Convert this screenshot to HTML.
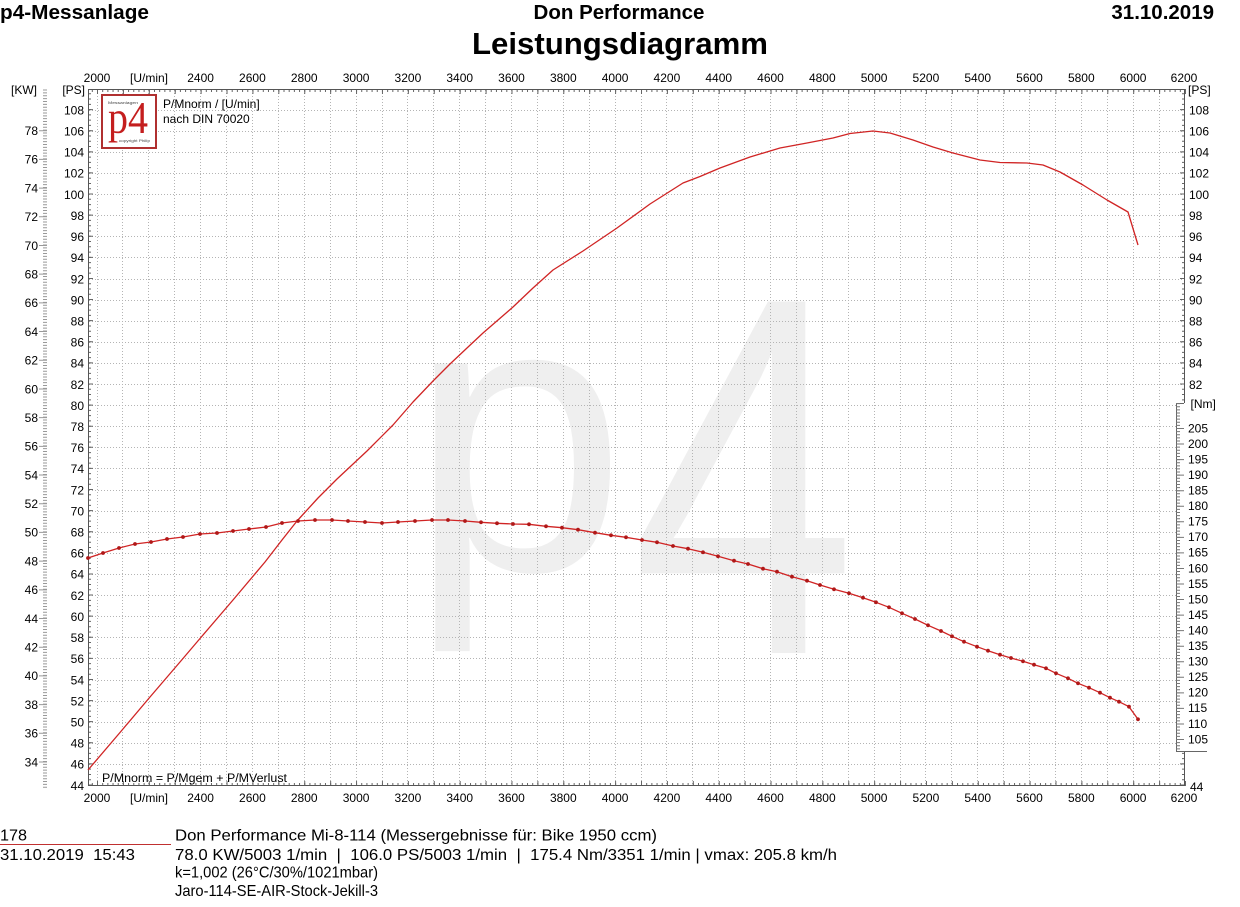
<!DOCTYPE html>
<html><head><meta charset="utf-8"><style>
html,body{margin:0;padding:0;background:#fff;}
svg{display:block;}
text{font-family:"Liberation Sans",Arial,sans-serif;fill:#000;}
</style></head><body>
<svg width="1240" height="907" viewBox="0 0 1240 907" xmlns="http://www.w3.org/2000/svg">
<defs>
<marker id="dot" markerWidth="5" markerHeight="5" refX="2.5" refY="2.5" markerUnits="userSpaceOnUse"><circle cx="2.5" cy="2.5" r="1.9" fill="#b01818"/></marker>
</defs>

<!-- header -->
<text x="0" y="19" font-size="20.5" font-weight="bold" textLength="149" lengthAdjust="spacingAndGlyphs">p4-Messanlage</text>
<text x="619" y="19" font-size="20.5" font-weight="bold" text-anchor="middle">Don Performance</text>
<text x="1214" y="19" font-size="20.5" font-weight="bold" text-anchor="end">31.10.2019</text>
<text x="620" y="54" font-size="31" font-weight="bold" text-anchor="middle" textLength="296" lengthAdjust="spacingAndGlyphs">Leistungsdiagramm</text>

<!-- watermark -->
<text x="409" y="570" font-size="391" style="fill:#efefef">p</text>
<text transform="translate(631.5,653) scale(4.04,5.11)" font-size="100" style="fill:#efefef">4</text>

<!-- grid -->
<path fill="none" stroke="#b4b4b4" stroke-width="1" stroke-dasharray="1 2" d="
M97.5 90V785 M122.5 90V785 M148.5 90V785 M174.5 90V785 M200.5 90V785 M226.5 90V785 M252.5 90V785 M278.5 90V785 M304.5 90V785 M330.5 90V785 M356.5 90V785 M382.5 90V785 M407.5 90V785 M433.5 90V785 M459.5 90V785 M485.5 90V785 M511.5 90V785 M537.5 90V785 M563.5 90V785 M589.5 90V785 M615.5 90V785 M641.5 90V785 M666.5 90V785 M692.5 90V785 M718.5 90V785 M744.5 90V785 M770.5 90V785 M796.5 90V785 M822.5 90V785 M848.5 90V785 M874.5 90V785 M900.5 90V785 M925.5 90V785 M951.5 90V785 M977.5 90V785 M1003.5 90V785 M1029.5 90V785 M1055.5 90V785 M1081.5 90V785 M1107.5 90V785 M1133.5 90V785 M1159.5 90V785
M89 764.5H1185 M89 743.5H1185 M89 722.5H1185 M89 701.5H1185 M89 680.5H1185 M89 658.5H1185 M89 637.5H1185 M89 616.5H1185 M89 595.5H1185 M89 574.5H1185 M89 553.5H1185 M89 532.5H1185 M89 511.5H1185 M89 490.5H1185 M89 468.5H1185 M89 447.5H1185 M89 426.5H1185 M89 405.5H1185 M89 384.5H1185 M89 363.5H1185 M89 342.5H1185 M89 321.5H1185 M89 300.5H1185 M89 279.5H1185 M89 257.5H1185 M89 236.5H1185 M89 215.5H1185 M89 194.5H1185 M89 173.5H1185 M89 152.5H1185 M89 131.5H1185 M89 110.5H1185"/>

<!-- axis ticks -->
<g fill="none" stroke="#666">
<path d="M91.82 90.5H1186" stroke-width="3" stroke-dasharray="1 4.181"/>
<path d="M97 91.5H1186" stroke-width="5" stroke-dasharray="1 24.905"/>
<path d="M91.82 784.5H1186" stroke-width="3" stroke-dasharray="1 4.181"/>
<path d="M97 783.5H1186" stroke-width="5" stroke-dasharray="1 24.905"/>
<path d="M89.5 785.5V89" stroke-width="3" stroke-dasharray="1 4.2765"/>
<path d="M90.5 785.5V89" stroke-width="5" stroke-dasharray="1 20.106"/>
<path d="M1183.5 785.5V89" stroke-width="3" stroke-dasharray="1 4.2765"/>
<path d="M1182.5 785.5V89" stroke-width="5" stroke-dasharray="1 20.106"/>
</g>
<g fill="none" stroke="#999">
<path d="M45 787.8V89" stroke-width="4" stroke-dasharray="1 1.8696"/>
<path d="M43 762.5V130" stroke-width="8" stroke-dasharray="1 27.696"/>
</g>

<!-- frame -->
<rect x="88.5" y="89.5" width="1096" height="696" fill="none" stroke="#555" stroke-width="1"/>

<!-- logo -->
<rect x="102" y="95" width="54" height="53" fill="#fff" stroke="#b03030" stroke-width="2"/>
<text x="108" y="104" font-size="4" style="fill:#444" textLength="30" lengthAdjust="spacingAndGlyphs">Messanlagen</text>
<text x="108" y="133" font-size="46" style="fill:#c41e1e;font-family:'Liberation Serif',serif" textLength="40" lengthAdjust="spacingAndGlyphs">p4</text>
<text x="119" y="142" font-size="3.6" style="fill:#444" textLength="31" lengthAdjust="spacingAndGlyphs">copyright Philip</text>
<text x="163" y="108" font-size="12">P/Mnorm / [U/min]</text>
<text x="163" y="123" font-size="12">nach DIN 70020</text>
<text x="102" y="782" font-size="12.4" textLength="185" lengthAdjust="spacingAndGlyphs">P/Mnorm = P/Mgem + P/MVerlust</text>

<!-- curves -->
<polyline fill="none" stroke="#d02424" stroke-width="1.3" stroke-linejoin="round" points="88,770 120,732.5 150,697 180,662 200,638.5 233,600 265,562 282,540 297,521 318,498 337,479 367,451 393,425 413,402 433,381 450,364 467,348 483,333 513,307 533,288 553,270 583,251 617,228 650,204 683,183 700,176.5 720,168 750,157 780,148 807,143 833,138 850,133.5 873,131 890,133 913,140 933,147 953,153 980,160 1000,162.5 1027,163 1043,165 1060,172 1083,185 1107,200 1128,212 1138,245"/>
<polyline fill="none" stroke="#d02424" stroke-width="1.3" stroke-linejoin="round" marker-start="url(#dot)" marker-mid="url(#dot)" marker-end="url(#dot)" points="88,558 103,553 119,548 135,544 151,542 167,539 183,537 200,534 217,533 233,531 249,529 266,527 282,523 298,521 315,520 332,520 348,521 365,522 382,523 398,522 415,521 432,520 448,520 465,521 481,522.3 497,523.3 513,524 529,524.3 546,526.3 562,527.7 578,529.7 595,532.7 611,535.3 626,537.3 642,540 657,542.3 673,546 688,548.7 703,552.3 718,556.3 734,560.7 748,564 763,568.7 777,571.7 792,576.7 807,580.7 820,585 834,589.3 849,593.3 863,597.7 876,602.3 889,607.3 902,613.3 915,619 928,625.3 941,631 952,636.3 964,641.7 977,646.7 988,650.7 1000,654.7 1011,658 1023,661.3 1034,664.7 1046,668.3 1056,673.3 1068,678.3 1078,683.3 1089,687.7 1100,692.7 1110,697.7 1119,701.7 1129,706.7 1138,719.3"/>

<!-- Nm panel -->
<rect x="1176" y="403" width="64" height="348" fill="#fff"/>
<path d="M1176.5 403V751.5 M1176 751.5H1207 M1176 403.5H1184" fill="none" stroke="#666" stroke-width="1"/>
<g fill="none" stroke="#777">
<path d="M1178 403.12V751" stroke-width="4" stroke-dasharray="1 2.11"/>
<path d="M1180 428V741" stroke-width="8" stroke-dasharray="1 14.55"/>
</g>

<!-- top/bottom x labels -->
<g font-size="12" text-anchor="middle">
<text x="97" y="82">2000</text><text x="149" y="82">[U/min]</text><text x="200.6" y="82">2400</text><text x="252.4" y="82">2600</text><text x="304.2" y="82">2800</text><text x="356.1" y="82">3000</text><text x="407.9" y="82">3200</text><text x="459.7" y="82">3400</text><text x="511.5" y="82">3600</text><text x="563.3" y="82">3800</text><text x="615.1" y="82">4000</text><text x="666.9" y="82">4200</text><text x="718.7" y="82">4400</text><text x="770.5" y="82">4600</text><text x="822.3" y="82">4800</text><text x="874.1" y="82">5000</text><text x="925.9" y="82">5200</text><text x="977.7" y="82">5400</text><text x="1029.5" y="82">5600</text><text x="1081.3" y="82">5800</text><text x="1133.1" y="82">6000</text><text x="1184" y="82">6200</text>
<text x="97" y="802">2000</text><text x="149" y="802">[U/min]</text><text x="200.6" y="802">2400</text><text x="252.4" y="802">2600</text><text x="304.2" y="802">2800</text><text x="356.1" y="802">3000</text><text x="407.9" y="802">3200</text><text x="459.7" y="802">3400</text><text x="511.5" y="802">3600</text><text x="563.3" y="802">3800</text><text x="615.1" y="802">4000</text><text x="666.9" y="802">4200</text><text x="718.7" y="802">4400</text><text x="770.5" y="802">4600</text><text x="822.3" y="802">4800</text><text x="874.1" y="802">5000</text><text x="925.9" y="802">5200</text><text x="977.7" y="802">5400</text><text x="1029.5" y="802">5600</text><text x="1081.3" y="802">5800</text><text x="1133.1" y="802">6000</text><text x="1184" y="802">6200</text>
</g>

<!-- KW labels -->
<g font-size="12" text-anchor="end">
<text x="37" y="94">[KW]</text>
<text x="38" y="135">78</text><text x="38" y="163.7">76</text><text x="38" y="192.4">74</text><text x="38" y="221.1">72</text><text x="38" y="249.8">70</text><text x="38" y="278.5">68</text><text x="38" y="307.2">66</text><text x="38" y="335.9">64</text><text x="38" y="364.6">62</text><text x="38" y="393.3">60</text><text x="38" y="422">58</text><text x="38" y="450.7">56</text><text x="38" y="479.3">54</text><text x="38" y="508">52</text><text x="38" y="536.7">50</text><text x="38" y="565.4">48</text><text x="38" y="594.1">46</text><text x="38" y="622.8">44</text><text x="38" y="651.5">42</text><text x="38" y="680.2">40</text><text x="38" y="708.9">38</text><text x="38" y="737.6">36</text><text x="38" y="766.3">34</text>
</g>

<!-- left PS labels -->
<g font-size="12" text-anchor="end">
<text x="85" y="94">[PS]</text>
<text x="84" y="114.4">108</text><text x="84" y="135.5">106</text><text x="84" y="156.6">104</text><text x="84" y="177.7">102</text><text x="84" y="198.8">100</text><text x="84" y="219.9">98</text><text x="84" y="241">96</text><text x="84" y="262.2">94</text><text x="84" y="283.3">92</text><text x="84" y="304.4">90</text><text x="84" y="325.5">88</text><text x="84" y="346.6">86</text><text x="84" y="367.7">84</text><text x="84" y="388.8">82</text><text x="84" y="409.9">80</text><text x="84" y="431">78</text><text x="84" y="452.1">76</text><text x="84" y="473.2">74</text><text x="84" y="494.3">72</text><text x="84" y="515.4">70</text><text x="84" y="536.5">68</text><text x="84" y="557.6">66</text><text x="84" y="578.7">64</text><text x="84" y="599.8">62</text><text x="84" y="621">60</text><text x="84" y="642.1">58</text><text x="84" y="663.2">56</text><text x="84" y="684.3">54</text><text x="84" y="705.4">52</text><text x="84" y="726.5">50</text><text x="84" y="747.6">48</text><text x="84" y="768.7">46</text><text x="84" y="789.8">44</text>
</g>

<!-- right PS labels -->
<g font-size="12">
<text x="1188" y="94">[PS]</text>
<text x="1189" y="114.4">108</text><text x="1189" y="135.5">106</text><text x="1189" y="156.6">104</text><text x="1189" y="177.7">102</text><text x="1189" y="198.8">100</text><text x="1189" y="219.9">98</text><text x="1189" y="241">96</text><text x="1189" y="262.2">94</text><text x="1189" y="283.3">92</text><text x="1189" y="304.4">90</text><text x="1189" y="325.5">88</text><text x="1189" y="346.6">86</text><text x="1189" y="367.7">84</text><text x="1189" y="388.8">82</text>
<text x="1190" y="791">44</text>
<text x="1190.5" y="408">[Nm]</text>
<text x="1188" y="432.3">205</text><text x="1188" y="447.9">200</text><text x="1188" y="463.4">195</text><text x="1188" y="479">190</text><text x="1188" y="494.5">185</text><text x="1188" y="510.1">180</text><text x="1188" y="525.6">175</text><text x="1188" y="541.2">170</text><text x="1188" y="556.7">165</text><text x="1188" y="572.3">160</text><text x="1188" y="587.8">155</text><text x="1188" y="603.4">150</text><text x="1188" y="618.9">145</text><text x="1188" y="634.5">140</text><text x="1188" y="650">135</text><text x="1188" y="665.6">130</text><text x="1188" y="681.1">125</text><text x="1188" y="696.7">120</text><text x="1188" y="712.2">115</text><text x="1188" y="727.8">110</text><text x="1188" y="743.3">105</text>
</g>

<!-- footer -->
<text x="0" y="840.5" font-size="16" textLength="27" lengthAdjust="spacingAndGlyphs">178</text>
<path d="M0 844.5H171" stroke="#c03030" stroke-width="1"/>
<text x="0" y="860" font-size="16" textLength="135" lengthAdjust="spacingAndGlyphs" xml:space="preserve">31.10.2019  15:43</text>
<text x="175" y="840.5" font-size="16" textLength="482" lengthAdjust="spacingAndGlyphs">Don Performance Mi-8-114 (Messergebnisse für: Bike 1950 ccm)</text>
<text x="175" y="860" font-size="16" textLength="662" lengthAdjust="spacingAndGlyphs" xml:space="preserve">78.0 KW/5003 1/min  |  106.0 PS/5003 1/min  |  175.4 Nm/3351 1/min | vmax: 205.8 km/h</text>
<text x="175" y="877.5" font-size="16" textLength="203" lengthAdjust="spacingAndGlyphs">k=1,002 (26°C/30%/1021mbar)</text>
<text x="175" y="896" font-size="16" textLength="203" lengthAdjust="spacingAndGlyphs">Jaro-114-SE-AIR-Stock-Jekill-3</text>
</svg>
</body></html>
